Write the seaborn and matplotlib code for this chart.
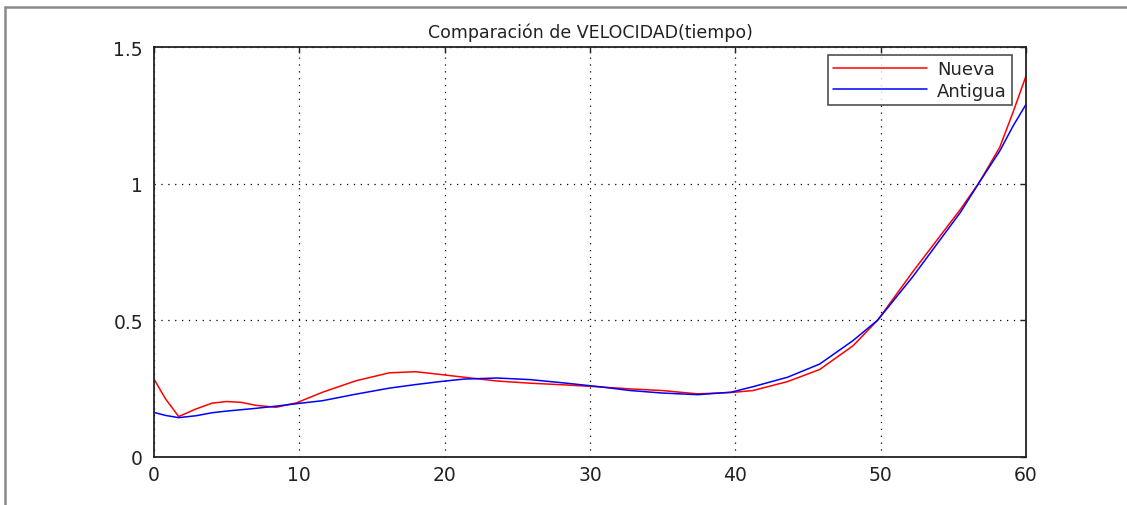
import matplotlib
matplotlib.use("Agg")
import matplotlib.pyplot as plt
from matplotlib.lines import Line2D
import seaborn as sns
import pandas as pd

title = "Comparación de VELOCIDAD(tiempo)"
series_names = ["Nueva", "Antigua"]

tiempo = [0, 0.8, 1.7, 2.9, 4.0, 5.0, 6.0, 7.0, 8.4, 9.8, 11.6, 13.9, 16.2, 18.0,
          19.7, 21.3, 23.6, 25.9, 28.2, 30.5, 32.8, 35.0, 37.4, 39.7, 41.2, 43.6,
          45.8, 48.1, 49.8, 52.2, 55.5, 56.8, 58.2, 59.1, 60]

nueva = [0.285, 0.212, 0.148, 0.176, 0.197, 0.203, 0.200, 0.189, 0.182, 0.198,
         0.237, 0.279, 0.308, 0.312, 0.302, 0.292, 0.278, 0.270, 0.264, 0.257,
         0.249, 0.243, 0.231, 0.236, 0.243, 0.276, 0.320, 0.407, 0.501, 0.677,
         0.907, 1.006, 1.134, 1.260, 1.394]

antigua = [0.163, 0.152, 0.144, 0.151, 0.162, 0.168, 0.173, 0.178, 0.186, 0.195,
           0.206, 0.230, 0.252, 0.265, 0.276, 0.285, 0.289, 0.283, 0.271, 0.258,
           0.243, 0.234, 0.228, 0.237, 0.257, 0.292, 0.340, 0.426, 0.501, 0.659,
           0.896, 1.006, 1.120, 1.210, 1.290]

x_ticks = [0, 10, 20, 30, 40, 50, 60]
y_ticks = [0, 0.5, 1, 1.5]
y_tick_labels = ["0", "0.5", "1", "1.5"]

sns.set_theme(style="white")
plt.rcParams["font.family"] = ["DejaVu Sans"]

df = pd.DataFrame({
    "tiempo": tiempo * 2,
    "velocidad": nueva + antigua,
    "serie": [series_names[0]] * len(tiempo) + [series_names[1]] * len(tiempo),
})

fig = plt.figure(figsize=(11.27, 5.06), dpi=100)
ax = fig.add_axes([154 / 1127, 1 - 458 / 506, 872 / 1127, 410 / 506])

sns.lineplot(data=df, x="tiempo", y="velocidad", hue="serie",
             palette={"Nueva": "#ff0000", "Antigua": "#0000ff"},
             hue_order=series_names, linewidth=1.1, ax=ax, sort=False,
             estimator=None)

ax.set_xlim(0, 60)
ax.set_ylim(0, 1.5)
ax.set_xticks(x_ticks)
ax.set_xticklabels([str(v) for v in x_ticks])
ax.set_yticks(y_ticks)
ax.set_yticklabels(y_tick_labels)
ax.set_xlabel("")
ax.set_ylabel("")
ax.set_title(title, fontsize=12.5, color="#222222", pad=7)

ax.grid(True, color="black", linestyle=(0, (1, 4.5)), linewidth=0.9)
for s in ax.spines.values():
    s.set_color("#222222")
    s.set_linewidth(1.3)
ax.tick_params(direction="in", length=4, width=1, top=True, right=True,
               labelsize=13.5, colors="#222222", pad=6)
ax.tick_params(axis="y", pad=8)

leg = ax.legend(loc="upper right", bbox_to_anchor=(0.984, 0.981),
                fontsize=13, frameon=True, fancybox=False, handlelength=5.2,
                handletextpad=0.55, borderpad=0.28, labelspacing=0.22,
                borderaxespad=0)
leg.get_frame().set_edgecolor("#222222")
leg.get_frame().set_linewidth(1.2)
for h in leg.get_lines():
    h.set_linewidth(1.1)

fig.add_artist(Line2D([5 / 1127, 1.0], [1 - 8 / 506, 1 - 8 / 506],
                      transform=fig.transFigure, color="#8a8a8a", linewidth=1.8))
fig.add_artist(Line2D([5 / 1127, 5 / 1127], [0, 1 - 8 / 506],
                      transform=fig.transFigure, color="#8a8a8a", linewidth=1.8))

fig.savefig("out.png", dpi=100)
